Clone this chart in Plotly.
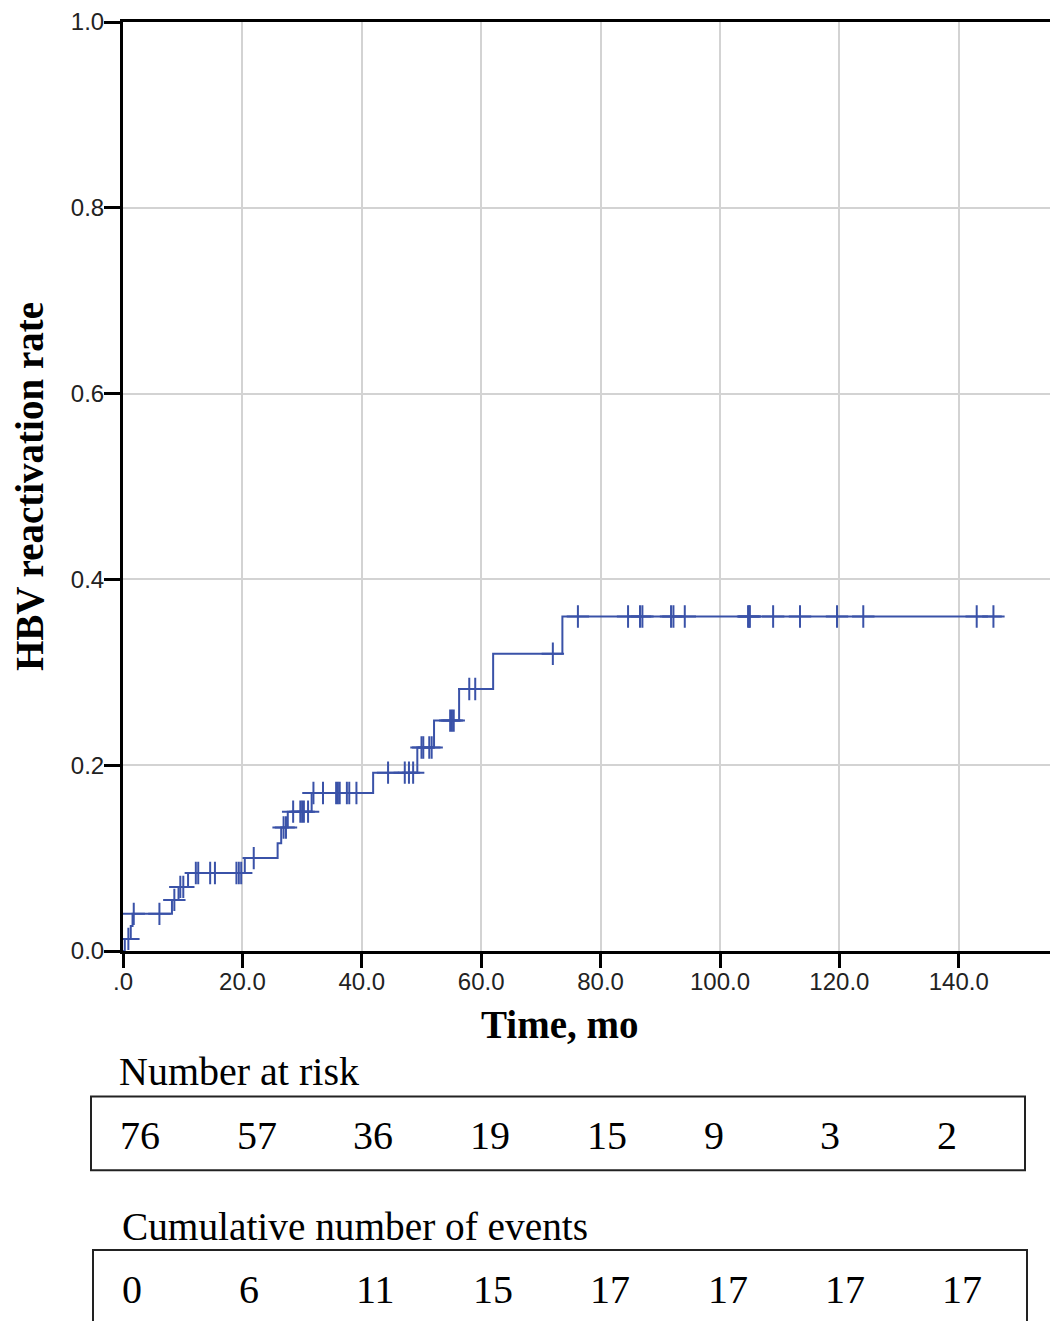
import plotly.graph_objects as go
import numpy as np

# ---------------- data ----------------
step_times = [0, 0.3, 1.3, 1.6, 8.2, 9.3, 10.9, 20.4, 25.9, 26.5, 27.6, 31.6,
              41.9, 49.3, 52.1, 56.3, 62.0, 73.6]
step_levels = [0.0, 0.013, 0.027, 0.040, 0.055, 0.069, 0.084, 0.100, 0.116,
               0.133, 0.150, 0.170, 0.192, 0.219, 0.248, 0.282, 0.320, 0.360]
end_time = 147.2

censor_times = [0.9, 1.8, 6.1, 8.6, 9.6, 10.1, 12.2, 12.6, 14.6, 15.4, 19.0, 19.4, 19.8,
                21.9, 26.9, 27.3, 28.5, 29.7, 30.0, 30.3, 31.0, 31.9, 33.5, 35.7, 36.0,
                36.3, 37.5, 37.9, 39.1,
                44.4, 47.2, 47.9, 48.6, 50.0, 50.3, 51.3, 51.7, 54.8, 55.1, 55.4, 58.0, 59.0,
                72.0, 76.2, 84.6, 86.6, 87.0, 91.8, 92.2, 94.1,
                104.7, 104.9, 105.0, 108.9, 113.4, 119.6, 124.0, 143.0, 145.8]

x_ticks = [0, 20, 40, 60, 80, 100, 120, 140]
x_tick_text = [".0", "20.0", "40.0", "60.0", "80.0", "100.0", "120.0", "140.0"]
y_ticks = [0.0, 0.2, 0.4, 0.6, 0.8, 1.0]
y_tick_text = ["0.0", "0.2", "0.4", "0.6", "0.8", "1.0"]

at_risk = [76, 57, 36, 19, 15, 9, 3, 2]
cum_events = [0, 6, 11, 15, 17, 17, 17, 17]

# ---------------- layout constants ----------------
OFF = 8  # page body margin in the browser
W, H = 1058 - OFF, 1321 - OFF
L, T = 123 - OFF, 19 - OFF
R = 0
B = 1321 - 951
PW = W - L - R
PH = H - T - B
BLUE = "#3A52A8"

def px(xp):
    return (xp - OFF - L) / PW

def py(yp):
    return (H - B - (yp - OFF)) / PH

# step line
xs = list(step_times) + [end_time]
ys = list(step_levels) + [step_levels[-1]]

def level_at(t):
    idx = np.searchsorted(np.array(step_times), t, side="right") - 1
    return step_levels[max(idx, 0)]

cens_y = [level_at(t) for t in censor_times]

fig = go.Figure()
fig.add_trace(go.Scatter(x=xs, y=ys, mode="lines", line=dict(color=BLUE, width=2, shape="hv"),
                         hoverinfo="skip", showlegend=False))
fig.add_trace(go.Scatter(x=censor_times, y=cens_y, mode="markers",
                         marker=dict(symbol="cross-thin", size=16, line=dict(color=BLUE, width=2)),
                         showlegend=False))

fig.update_layout(
    width=W, height=H,
    margin=dict(l=L, r=R, t=T, b=B, pad=0),
    paper_bgcolor="white", plot_bgcolor="white",
    showlegend=False,
)

fig.update_xaxes(
    range=[0, PW / 5.97], tickvals=x_ticks, ticktext=x_tick_text,
    showline=True, linecolor="black", linewidth=3, mirror=True,
    ticks="outside", ticklen=14, tickwidth=3, tickcolor="black",
    ticklabelstandoff=-7,
    showgrid=True, gridcolor="#D3D3D3", gridwidth=2, zeroline=False,
    tickfont=dict(family="Liberation Sans, Arial", size=24, color="#222222"),
)
fig.update_yaxes(
    range=[0, 1], tickvals=y_ticks, ticktext=y_tick_text,
    showline=True, linecolor="black", linewidth=3, mirror=False,
    ticks="outside", ticklen=16, tickwidth=3, tickcolor="black",
    ticklabelstandoff=-5, ticklabeloverflow="allow",
    showgrid=True, gridcolor="#D3D3D3", gridwidth=2, zeroline=False,
    tickfont=dict(family="Liberation Sans, Arial", size=24, color="#222222"),
    title=dict(text="<b>HBV reactivation rate</b>", font=dict(family="Liberation Serif, Times New Roman", size=39, color="black"),
               standoff=22),
)

serif = dict(family="Liberation Serif, Times New Roman", size=40, color="black")
ann = []
ann.append(dict(text="<b>Time, mo</b>", xref="paper", yref="paper", x=px(559), y=py(1025),
                xanchor="center", yanchor="middle", showarrow=False,
                font=dict(family="Liberation Serif, Times New Roman", size=39, color="black")))
ann.append(dict(text="Number at risk", xref="paper", yref="paper", x=px(117), y=py(1072),
                xanchor="left", yanchor="middle", showarrow=False, font=serif))
ann.append(dict(text="Cumulative number of events", xref="paper", yref="paper", x=px(120), y=py(1228),
                xanchor="left", yanchor="middle", showarrow=False,
                font=dict(family="Liberation Serif, Times New Roman", size=39.3, color="black")))
for i, v in enumerate(at_risk):
    ann.append(dict(text=str(v), xref="paper", yref="paper", x=px(118 + 116.7 * i), y=py(1136),
                    xanchor="left", yanchor="middle", showarrow=False, font=serif))
for i, v in enumerate(cum_events):
    ann.append(dict(text=str(v), xref="paper", yref="paper", x=px(120 + 117.1 * i), y=py(1291),
                    xanchor="left", yanchor="middle", showarrow=False, font=serif))
fig.update_layout(annotations=ann)

shapes = [
    dict(type="rect", xref="paper", yref="paper", x0=px(91), x1=px(1025), y0=py(1171), y1=py(1097),
         line=dict(color="#222222", width=2)),
    dict(type="rect", xref="paper", yref="paper", x0=px(93), x1=px(1027), y0=py(1345), y1=py(1251),
         line=dict(color="#222222", width=2)),
]
fig.update_layout(shapes=shapes)

fig.write_html("out.html")
